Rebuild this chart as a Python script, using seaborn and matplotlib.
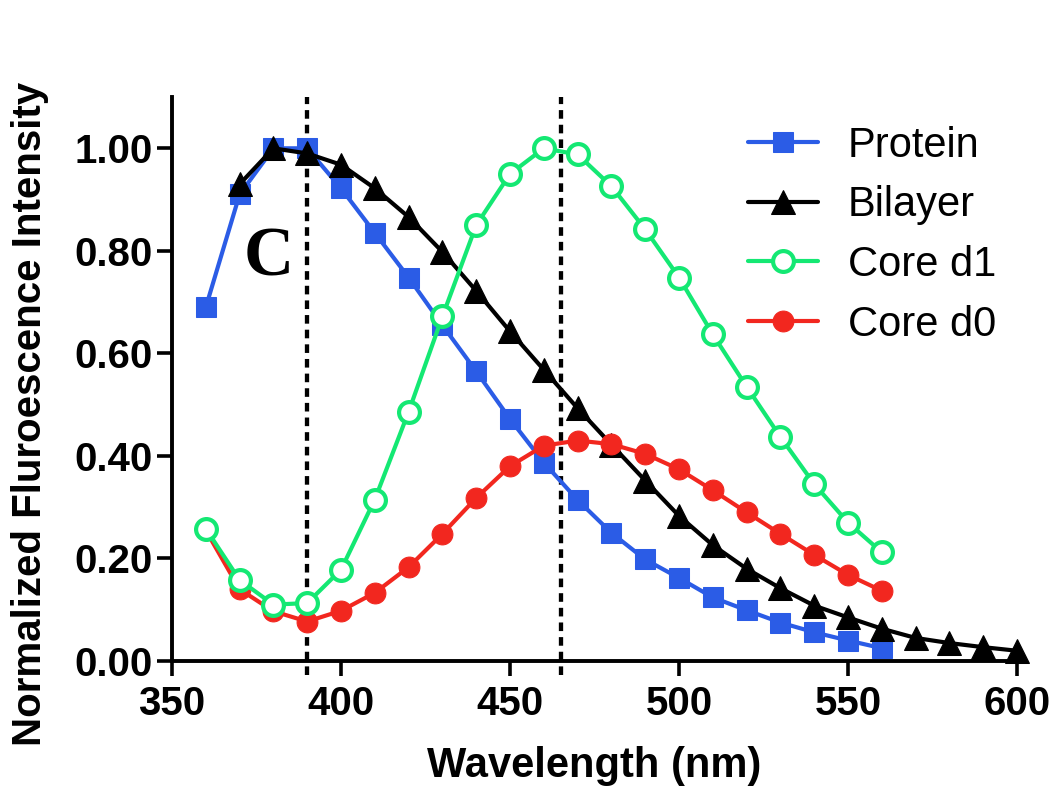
import pandas as pd
import seaborn as sns
import matplotlib.pyplot as plt

# Spectra
wl_short = [360, 370, 380, 390, 400, 410, 420, 430, 440, 450, 460,
            470, 480, 490, 500, 510, 520, 530, 540, 550, 560]
protein = [0.69, 0.91, 1.00, 1.00, 0.922, 0.835, 0.748, 0.655, 0.565, 0.472, 0.387,
           0.314, 0.25, 0.198, 0.162, 0.124, 0.099, 0.075, 0.056, 0.04, 0.025]

wl_bilayer = [370, 380, 390, 400, 410, 420, 430, 440, 450, 460, 470, 480,
              490, 500, 510, 520, 530, 540, 550, 560, 570, 580, 590, 600]
bilayer = [0.93, 1.00, 0.99, 0.968, 0.922, 0.866, 0.798, 0.722, 0.643, 0.568, 0.493, 0.422,
           0.352, 0.283, 0.226, 0.18, 0.142, 0.108, 0.085, 0.063, 0.045, 0.035, 0.027, 0.02]

core_d1 = [0.258, 0.158, 0.11, 0.113, 0.178, 0.315, 0.486, 0.672, 0.85, 0.95, 1.00,
           0.988, 0.926, 0.842, 0.748, 0.637, 0.535, 0.437, 0.345, 0.27, 0.212]
core_d0 = [0.255, 0.14, 0.097, 0.077, 0.098, 0.133, 0.183, 0.248, 0.318, 0.38, 0.42,
           0.43, 0.423, 0.404, 0.374, 0.333, 0.29, 0.248, 0.207, 0.168, 0.137]

dividers = [390, 465]

sns.set_style("ticks")
plt.rcParams['font.family'] = ['Liberation Sans', 'DejaVu Sans']
plt.rcParams.update({"text.color": "black", "axes.labelcolor": "black",
                     "xtick.color": "black", "ytick.color": "black"})

fig = plt.figure(figsize=(10.5, 8.02), dpi=100)
ax = fig.add_axes([0.1638, 0.1758, 0.8048, 0.7032])

dp = pd.DataFrame({"wl": wl_short, "Protein": protein, "Core d1": core_d1, "Core d0": core_d0})
db = pd.DataFrame({"wl": wl_bilayer, "Bilayer": bilayer})

lw = 3.0
sns.lineplot(data=dp, x="wl", y="Protein", ax=ax, color="#2b5ce6", lw=lw,
             marker="s", ms=15, mec="#2b5ce6", label="Protein", clip_on=False)
sns.lineplot(data=db, x="wl", y="Bilayer", ax=ax, color="black", lw=lw,
             marker="^", ms=17, mec="black", label="Bilayer", clip_on=False)
sns.lineplot(data=dp, x="wl", y="Core d0", ax=ax, color="#f2271f", lw=lw,
             marker="o", ms=15, mec="#f2271f", label="Core d0", clip_on=False)
sns.lineplot(data=dp, x="wl", y="Core d1", ax=ax, color="#14e873", lw=lw,
             marker="o", ms=15, mec="#14e873", mfc="white", mew=3.0,
             label="Core d1", clip_on=False)

for xv in dividers:
    ax.axvline(xv, ymin=-0.025, ymax=1, color="black", lw=3.1,
               ls=(0, (2, 1.4)), clip_on=False, zorder=1)

ax.text(378.6, 0.785, "C", family="Liberation Serif", fontweight="bold",
        fontsize=50, ha="center", va="center")

ax.set_xlim(350, 600)
ax.set_ylim(0, 1.1)
ax.set_xticks([350, 400, 450, 500, 550, 600])
ax.set_yticks([0, 0.2, 0.4, 0.6, 0.8, 1.0])
ax.set_yticklabels([f"{v:.2f}" for v in [0, 0.2, 0.4, 0.6, 0.8, 1.0]])
for lab in ax.get_xticklabels() + ax.get_yticklabels():
    lab.set_fontweight("bold")
ax.tick_params(axis="both", labelsize=29, width=2.6, length=11, color="black")
ax.tick_params(axis="x", pad=6)
ax.tick_params(axis="y", pad=3)
sns.despine(ax=ax)
for s in ["left", "bottom"]:
    ax.spines[s].set_linewidth(2.8)
    ax.spines[s].set_color("black")

ax.set_xlabel("Wavelength (nm)", fontsize=30, fontweight="bold", labelpad=17)
ax.set_ylabel("Normalized Fluroescence Intensity", fontsize=29, fontweight="bold")
ax.yaxis.set_label_coords(-0.146, 0.438)

h, l = ax.get_legend_handles_labels()
order = [l.index(n) for n in ["Protein", "Bilayer", "Core d1", "Core d0"]]
ax.legend([h[i] for i in order], [l[i] for i in order], loc="upper left",
          bbox_to_anchor=(0.712, 0.843), bbox_transform=fig.transFigure,
          frameon=False, fontsize=30, handlelength=1.68, handletextpad=0.72,
          labelspacing=0.47, borderpad=0, borderaxespad=0)

fig.savefig("out.png", dpi=100)
